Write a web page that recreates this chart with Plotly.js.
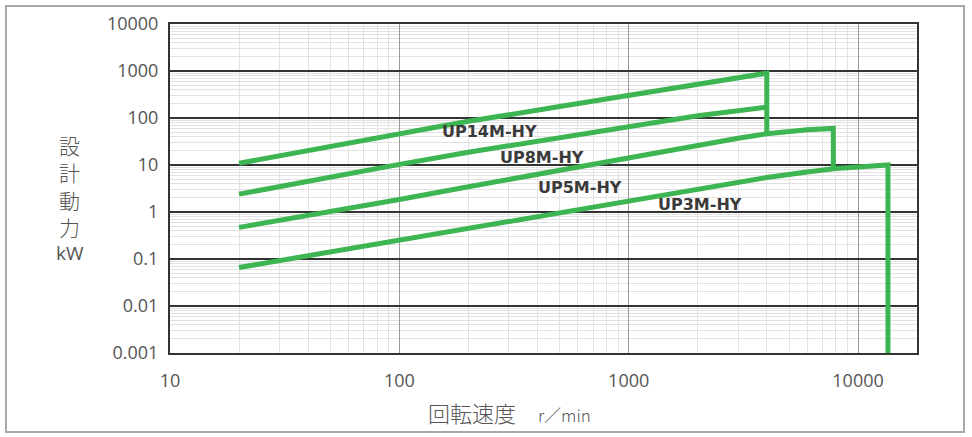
<!DOCTYPE html>
<html>
<head>
<meta charset="utf-8">
<script src="https://cdn.plot.ly/plotly-3.0.1.min.js"></script>
<style>
  body { margin: 0; background: #fff; }
  #chart { position: absolute; left: 0; top: 0; width: 972px; height: 437px; }
  #frame { position: absolute; left: 5px; top: 5px; width: 956px; height: 424px;
           border: 2px solid #a8a8a8; pointer-events: none; }
</style>
</head>
<body>
<div id="chart"></div>
<div id="frame"></div>
<script>
// 回転速度 r/min  vs  設計動力 kW
var rpm14 = [20, 50, 100, 200, 500, 1000, 2000, 4000, 4000];
var kw14  = [10.9, 25, 46, 85, 175, 300, 520, 900, 50];

var rpm8 = [20, 50, 100, 200, 500, 1000, 2000, 4000];
var kw8  = [2.4, 5.6, 10.3, 18.7, 38, 66, 112, 170];

var rpm5 = [20, 50, 100, 200, 500, 1000, 2000, 3000, 4000, 5000, 6000, 7800, 7800];
var kw5  = [0.47, 1.01, 1.85, 3.44, 7.8, 14.5, 26.7, 37, 46, 52, 56, 60, 8.5];

var rpm3 = [20, 50, 100, 200, 500, 1000, 2000, 4000, 6000, 8000, 13500, 13500];
var kw3  = [0.066, 0.142, 0.254, 0.46, 1.0, 1.8, 3.2, 5.4, 7.1, 8.4, 10, 0.0008];

var seriesNames = ['UP14M-HY', 'UP8M-HY', 'UP5M-HY', 'UP3M-HY'];
// label positions (log10 of rpm, log10 of kW)
var labelX = [2.392, 2.623, 2.789, 3.312];
var labelY = [1.723, 1.170, 0.532, 0.170];

var xTickVals = [10, 100, 1000, 10000];
var xTickText = ['10', '100', '1000', '10000'];
var yTickVals = [0.001, 0.01, 0.1, 1, 10, 100, 1000, 10000];
var yTickText = ['0.001', '0.01', '0.1', '1', '10', '100', '1000', '10000'];

var green = '#3db552';

function makeTrace(xs, ys, name){
    return {
        x: xs,
        y: ys,
        name: name,
        type: 'scatter',
        mode: 'lines',
        line: { color: green, width: 5 },
        hoverinfo: 'skip'
    };
}

var data = [
    makeTrace(rpm14, kw14, seriesNames[0]),
    makeTrace(rpm8, kw8, seriesNames[1]),
    makeTrace(rpm5, kw5, seriesNames[2]),
    makeTrace(rpm3, kw3, seriesNames[3])
];

var annotations = [];
for (var i = 0; i < seriesNames.length; i++) {
    annotations.push({
        x: labelX[i], y: labelY[i], xref: 'x', yref: 'y',
        text: '<b>' + seriesNames[i] + '</b>',
        showarrow: false,
        font: { family: 'DejaVu Sans, sans-serif', size: 16, color: '#3a3a3a' }
    });
}
// y title, stacked characters
annotations.push({
    x: -0.134, y: 0.508, xref: 'paper', yref: 'paper',
    xanchor: 'center', yanchor: 'middle',
    text: '設<br>計<br>動<br>力', showarrow: false,
    font: { family: 'Noto Sans CJK JP, sans-serif', size: 21, weight: 300, color: '#555' }
});
annotations.push({
    x: -0.134, y: 0.304, xref: 'paper', yref: 'paper',
    xanchor: 'center', yanchor: 'middle',
    text: 'kW', showarrow: false,
    font: { family: 'Open Sans, sans-serif', size: 19, color: '#555' }
});
// x title
annotations.push({
    x: 0.455, y: -0.18, xref: 'paper', yref: 'paper',
    xanchor: 'center', yanchor: 'middle',
    text: '回転速度　<span style="font-size:17px">r／min</span>', showarrow: false,
    font: { family: 'Noto Sans CJK JP, sans-serif', size: 22, weight: 300, color: '#555' }
});

var layout = {
    width: 972,
    height: 437,
    margin: { l: 170, r: 55, t: 24, b: 84 },
    paper_bgcolor: 'rgba(0,0,0,0)',
    plot_bgcolor: '#fff',
    showlegend: false,
    font: { family: 'Open Sans, sans-serif', color: '#555' },
    xaxis: {
        type: 'log',
        range: [1, 4.257],
        tickmode: 'array',
        tickvals: xTickVals,
        ticktext: xTickText,
        tickfont: { size: 18, color: '#555' },
        ticks: '',
        ticklabelstandoff: 10,
        showgrid: true,
        gridcolor: '#9a9a9a',
        gridwidth: 1,
        minor: { dtick: 'D1', showgrid: true, gridcolor: '#e2e2e2', gridwidth: 1 },
        showline: true, linecolor: '#333', linewidth: 2, mirror: true,
        zeroline: false
    },
    yaxis: {
        type: 'log',
        range: [-3, 4],
        tickmode: 'array',
        tickvals: yTickVals,
        ticktext: yTickText,
        tickfont: { size: 18, color: '#555' },
        ticks: '',
        ticklabelstandoff: 6,
        showgrid: true,
        gridcolor: '#333',
        gridwidth: 1.6,
        minor: { dtick: 'D1', showgrid: true, gridcolor: '#e2e2e2', gridwidth: 1 },
        showline: true, linecolor: '#333', linewidth: 2, mirror: true,
        zeroline: false
    },
    annotations: annotations
};

Plotly.newPlot('chart', data, layout, {displayModeBar: false, staticPlot: true});
</script>
</body>
</html>
